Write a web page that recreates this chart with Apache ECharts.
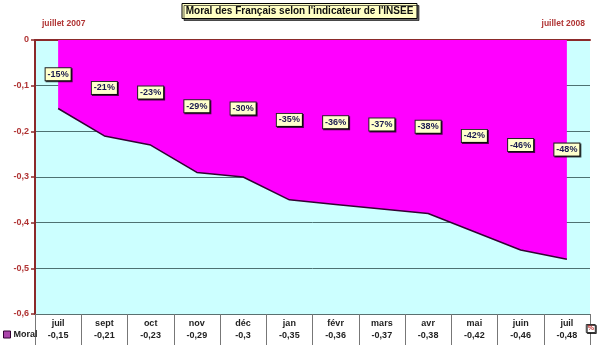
<!DOCTYPE html>
<html>
<head>
<meta charset="utf-8">
<script src="https://cdn.jsdelivr.net/npm/echarts@6/dist/echarts.min.js"></script>
<style>
html,body{margin:0;padding:0;background:#fff;}
#chart{width:599px;height:345px;}
</style>
</head>
<body>
<div id="chart"></div>
<script>
// Monthly categories (July 2007 to July 2008)
const months = ['juil', 'sept', 'oct', 'nov', 'déc', 'jan', 'févr', 'mars', 'avr', 'mai', 'juin', 'juil'];
// INSEE household morale indicator
const moral = [-0.15, -0.21, -0.23, -0.29, -0.30, -0.35, -0.36, -0.37, -0.38, -0.42, -0.46, -0.48];
// Value axis ticks
const yTicks = [0, -0.1, -0.2, -0.3, -0.4, -0.5, -0.6];

const frNum = v => String(Math.round(v * 100) / 100).replace('.', ',');
const pct = v => Math.round(v * 100) + '%';

const chart = echarts.init(document.getElementById('chart'), null, {renderer: 'canvas'});
const dark = '#8b2a2a';
const font = 'Arial, "Liberation Sans", sans-serif';

chart.setOption({
  backgroundColor: '#ffffff',
  animation: false,
  title: [
    {
      text: "Moral des Français selon l'indicateur de l'INSEE",
      left: 'center', top: 3,
      padding: [3, 4, 3, 4],
      backgroundColor: '#ffffc4',
      borderColor: '#000', borderWidth: 1,
      shadowColor: 'rgba(0,0,0,0.6)', shadowOffsetX: 2, shadowOffsetY: 2, shadowBlur: 0,
      textStyle: {fontFamily: font, fontSize: 10, fontWeight: 'bold', color: '#111'}
    },
    {
      text: 'juillet 2007', left: 42, top: 19, padding: 0,
      textStyle: {fontFamily: font, fontSize: 8.5, fontWeight: 'bold', color: '#b03434'}
    },
    {
      text: 'juillet 2008', right: 14, top: 19, padding: 0,
      textStyle: {fontFamily: font, fontSize: 8.5, fontWeight: 'bold', color: '#b03434'}
    },
    {
      text: '%', right: 3, top: 324, padding: [1, 2, 1, 2],
      backgroundColor: '#fff', borderColor: '#333', borderWidth: 1,
      shadowColor: 'rgba(0,0,0,0.7)', shadowOffsetX: 1, shadowOffsetY: 1,
      textStyle: {fontFamily: font, fontSize: 7, fontWeight: 'bold', color: '#c03030'}
    }
  ],
  legend: {
    left: -2, top: 325,
    itemWidth: 7, itemHeight: 7, itemGap: 2,
    icon: 'rect',
    data: [{name: 'Moral', itemStyle: {color: '#aa44aa', borderColor: '#330033', borderWidth: 1}}],
    textStyle: {fontFamily: font, fontSize: 9, fontWeight: 'bold', color: '#222', padding: [0, 0, 0, -2]}
  },
  grid: {left: 35, right: 9, top: 40, bottom: 31, show: true, backgroundColor: '#ccffff', borderWidth: 0},
  xAxis: [
    {
      type: 'category', data: months, position: 'top', boundaryGap: true,
      axisLine: {lineStyle: {color: dark, width: 2}},
      axisTick: {show: false}, axisLabel: {show: false}
    },
    {
      type: 'category', data: months, position: 'bottom', boundaryGap: true,
      axisLine: {show: true, lineStyle: {color: '#5a7070', width: 1}},
      axisTick: {show: true, length: 31, lineStyle: {color: '#777', width: 1}, interval: 0},
      axisLabel: {
        interval: 0, margin: 4,
        formatter: (val, i) => '{c|' + val + '}\n{v|' + frNum(moral[i]) + '}',
        rich: {
          c: {fontFamily: font, fontSize: 9, fontWeight: 'bold', color: '#222', lineHeight: 12},
          v: {fontFamily: font, fontSize: 9, fontWeight: 'bold', color: '#222', lineHeight: 12}
        }
      }
    }
  ],
  yAxis: {
    type: 'value', min: -0.6, max: 0, interval: 0.1,
    axisLine: {show: true, lineStyle: {color: dark, width: 2}},
    axisTick: {show: true, length: 4, lineStyle: {color: dark, width: 1.5}},
    axisLabel: {
      fontFamily: font, fontSize: 9, fontWeight: 'bold', color: '#b03434', margin: 6,
      formatter: v => frNum(v)
    },
    splitLine: {lineStyle: {color: '#4d7272', width: 1}}
  },
  series: [
    {
      name: 'Moral', type: 'line', xAxisIndex: 0, data: moral,
      symbol: 'none', z: 2,
      lineStyle: {color: '#330033', width: 1.5},
      itemStyle: {color: '#aa44aa'},
      areaStyle: {color: '#ff00ff', opacity: 1}
    },
    {
      // percentage labels centred within the filled band (half-way to zero)
      name: 'labels', type: 'scatter', xAxisIndex: 0,
      data: moral.map(v => v / 2),
      symbolSize: 1, silent: true, z: 20,
      itemStyle: {color: '#ffffcc', opacity: 1},
      label: {
        show: true, position: 'inside', opacity: 1,
        formatter: p => pct(moral[p.dataIndex]),
        fontFamily: font, fontSize: 9, fontWeight: 'bold', color: '#1a1a50',
        backgroundColor: '#ffffcc', borderColor: '#222', borderWidth: 1,
        padding: [2, 2, 1, 2],
        shadowColor: 'rgba(0,0,0,0.7)', shadowOffsetX: 1, shadowOffsetY: 1
      },
      labelLayout: {hideOverlap: false}
    }
  ]
});
</script>
</body>
</html>
